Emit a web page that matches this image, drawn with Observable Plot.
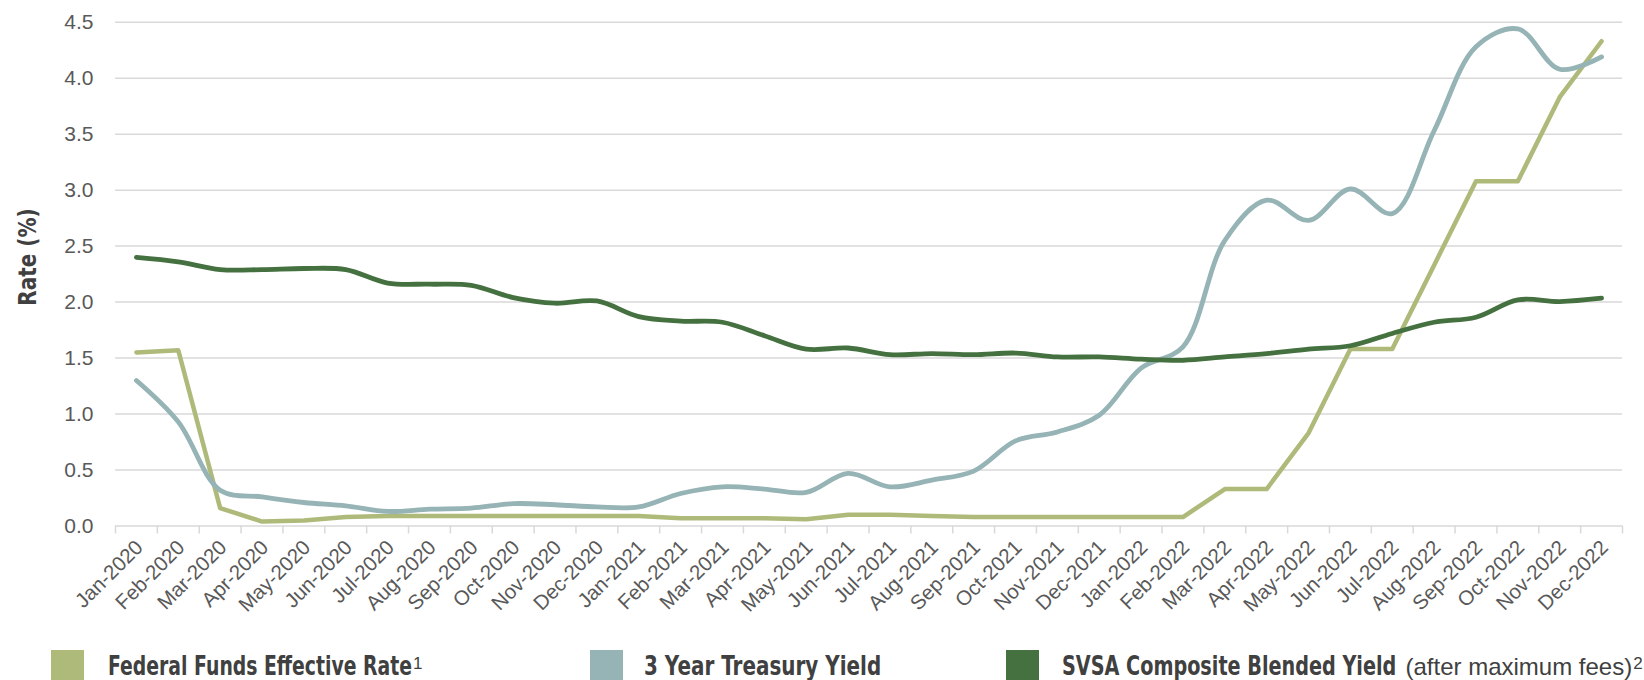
<!DOCTYPE html>
<html><head><meta charset="utf-8">
<script src="https://cdn.jsdelivr.net/npm/d3@7"></script>
<script src="https://cdn.jsdelivr.net/npm/@observablehq/plot@0.6"></script>
<style>
body{margin:0;background:#fff;width:1644px;height:680px;overflow:hidden;position:relative;font-family:"Liberation Sans",Arial,sans-serif;}
#chart{position:absolute;left:0;top:0;}
#ytitle{position:absolute;left:27px;top:257px;transform:translate(-50%,-50%) rotate(-90deg) scaleX(0.8);white-space:nowrap;font-family:"DejaVu Sans",sans-serif;font-weight:bold;font-size:25px;color:#404040;}
.item{position:absolute;top:650px;height:34px;}
.sw{position:absolute;left:0;top:0;width:33px;height:33px;}
.lab{position:absolute;top:3px;white-space:nowrap;font-family:"DejaVu Sans",sans-serif;font-weight:bold;font-size:26px;line-height:27px;color:#404040;}
.lab .fit{display:inline-block;transform-origin:0 0;}
.lab sup{font-size:17px;vertical-align:top;position:relative;top:-3px;margin-left:1px;font-family:"Liberation Sans",sans-serif;font-weight:normal;}
.lab .reg{font-family:"Liberation Sans",Arial,sans-serif;font-weight:normal;font-size:24px;color:#404040;}
</style></head><body>
<div id="chart"></div>
<div id="ytitle">Rate (%)</div>
<div id="legend"></div>
<script>
const months = ["Jan-2020","Feb-2020","Mar-2020","Apr-2020","May-2020","Jun-2020","Jul-2020","Aug-2020","Sep-2020","Oct-2020","Nov-2020","Dec-2020",
"Jan-2021","Feb-2021","Mar-2021","Apr-2021","May-2021","Jun-2021","Jul-2021","Aug-2021","Sep-2021","Oct-2021","Nov-2021","Dec-2021",
"Jan-2022","Feb-2022","Mar-2022","Apr-2022","May-2022","Jun-2022","Jul-2022","Aug-2022","Sep-2022","Oct-2022","Nov-2022","Dec-2022"];
const fedFunds = [1.55,1.57,0.16,0.04,0.05,0.08,0.09,0.09,0.09,0.09,0.09,0.09,
0.09,0.07,0.07,0.07,0.06,0.10,0.10,0.09,0.08,0.08,0.08,0.08,
0.08,0.08,0.33,0.33,0.83,1.58,1.58,2.33,3.08,3.08,3.83,4.33];
const treasury3y = [1.30,0.93,0.32,0.26,0.21,0.18,0.13,0.15,0.16,0.20,0.19,0.17,
0.17,0.29,0.35,0.33,0.30,0.47,0.35,0.41,0.49,0.76,0.84,0.99,
1.41,1.60,2.55,2.91,2.73,3.01,2.79,3.53,4.28,4.44,4.08,4.19];
const svsaYield = [2.40,2.36,2.29,2.29,2.30,2.29,2.17,2.16,2.15,2.04,1.99,2.01,
1.87,1.83,1.82,1.70,1.58,1.59,1.53,1.54,1.53,1.545,1.51,1.51,
1.49,1.48,1.51,1.54,1.58,1.61,1.72,1.82,1.865,2.02,2.005,2.035];
const yTicks = [0,0.5,1,1.5,2,2.5,3,3.5,4,4.5];
const seriesNames = ["Federal Funds Effective Rate","3 Year Treasury Yield","SVSA Composite Blended Yield"];
const seriesNote = "(after maximum fees)";
const seriesColors = ["#aeba7a","#96b3b5","#44713f"];

const rows = months.map((m, i) => ({pos: i + 0.5, month: m, fed: fedFunds[i], tsy: treasury3y[i], svsa: svsaYield[i]}));
const boundaries = d3.range(months.length + 1);
const centers = months.map((m, i) => i + 0.5);

const chart = Plot.plot({
  width: 1644, height: 640,
  marginLeft: 115, marginRight: 22, marginTop: 21.7, marginBottom: 114.5,
  style: {fontFamily: '"Liberation Sans", Arial, sans-serif', background: "#fff"},
  x: {type: "linear", domain: [0, months.length], axis: null},
  y: {domain: [0, 4.5], axis: null},
  marks: [
    Plot.gridY(yTicks, {stroke: "#d9d9d9", strokeOpacity: 1, strokeWidth: 1.5}),
    Plot.axisY(yTicks, {tickSize: 0, tickPadding: 22, tickFormat: d => d.toFixed(1), fontSize: 21, letterSpacing: 0.8, fill: "#595959", label: null}),
    Plot.axisX(boundaries, {tickSize: 8, tickFormat: () => "", stroke: "#d9d9d9", strokeWidth: 1.5, label: null}),
    Plot.axisX(centers, {tickSize: 0, tickPadding: 18, dx: 3, tickRotate: -45, tickFormat: d => months[Math.floor(d)], fontSize: 20.5, letterSpacing: 0.3, fill: "#595959", label: null}),
    Plot.line(rows, {x: "pos", y: "fed", stroke: seriesColors[0], strokeWidth: 4.5, curve: "linear"}),
    Plot.line(rows, {x: "pos", y: "tsy", stroke: seriesColors[1], strokeWidth: 4.8, curve: "catmull-rom"}),
    Plot.line(rows, {x: "pos", y: "svsa", stroke: seriesColors[2], strokeWidth: 4.8, curve: "catmull-rom"})
  ]
});
document.getElementById("chart").append(chart);

const legendLeft = [51, 590, 1006];
const labelOffset = [57, 54, 56];
const labelWidths = [304, 237, 334];
const noteWidth = 227;
const labelHtml = [
  `<span class="fit" data-w="${labelWidths[0]}">${seriesNames[0]}</span><sup>1</sup>`,
  `<span class="fit" data-w="${labelWidths[1]}">${seriesNames[1]}</span>`,
  `<span class="fit" data-w="${labelWidths[2]}">${seriesNames[2]}</span> <span class="reg fit" data-w="${noteWidth}">${seriesNote}</span><sup>2</sup>`
];
const legend = document.getElementById("legend");
seriesNames.forEach((n, k) => {
  const it = document.createElement("div");
  it.className = "item";
  it.style.left = legendLeft[k] + "px";
  it.innerHTML = `<div class="sw" style="background:${seriesColors[k]}"></div><div class="lab" style="left:${labelOffset[k]}px">${labelHtml[k]}</div>`;
  legend.append(it);
});
// horizontally condense texts to match the reference's condensed typeface
document.querySelectorAll(".lab .fit").forEach(el => {
  const w = el.offsetWidth, target = +el.dataset.w;
  el.style.transform = `scaleX(${target / w})`;
  el.style.marginRight = (target - w) + "px";
});
</script>
</body></html>
